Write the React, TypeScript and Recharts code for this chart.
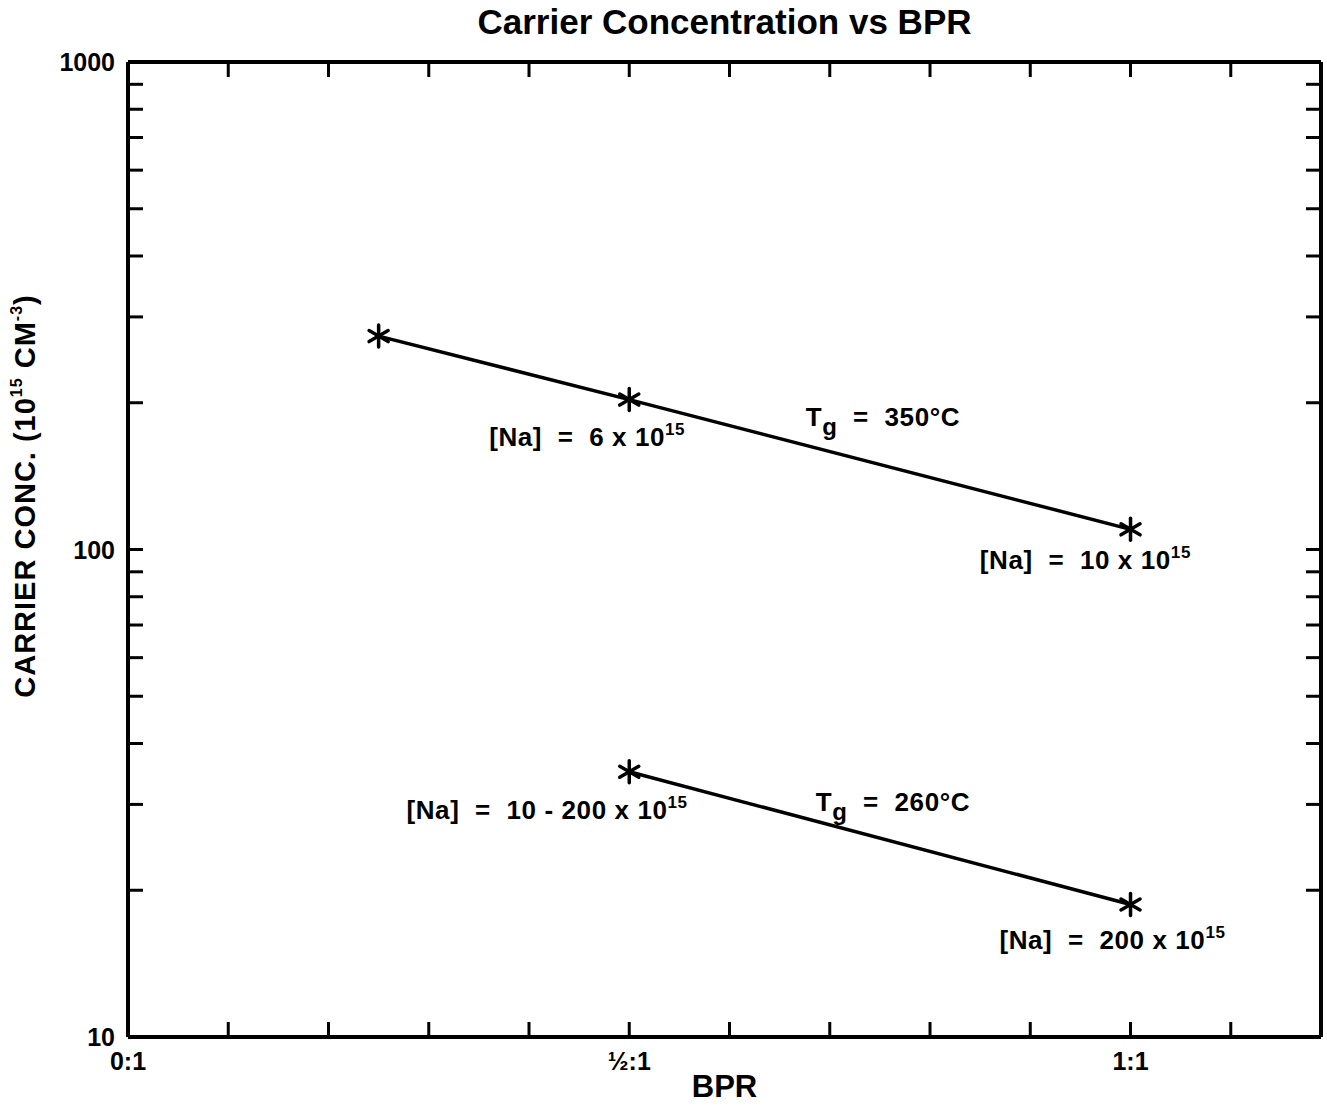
import React from 'react'
import { ScatterChart, Scatter, XAxis, YAxis, ReferenceDot, ReferenceLine, Label } from 'recharts'

// BPR (boron/phosphorus ratio) vs carrier concentration, two growth temps
const BPR_350 = [0.25, 0.5, 1.0]
const CONC_350 = [274, 203, 110]
const BPR_260 = [0.5, 1.0]
const CONC_260 = [35, 18.7]

const X_MAX = 1.19
const X_TICKS = [0, 0.1, 0.2, 0.3, 0.4, 0.5, 0.6, 0.7, 0.8, 0.9, 1.0, 1.1]
const X_LABELS: Record<string, string> = { '0': '0:1', '0.5': '½:1', '1': '1:1' }
const Y_TICKS = [10, 20, 30, 40, 50, 60, 70, 80, 90, 100, 200, 300, 400, 500, 600, 700, 800, 900, 1000]
const Y_LABELS = [10, 100, 1000]

// annotations: position in data units, text split by | into normal/sup/sub parts
const NOTES_X = [0.458, 0.753, 0.955, 0.418, 0.763, 0.982]
const NOTES_Y = [170, 187, 95.3, 29.2, 30.4, 15.8]
const NOTES_TEXT = [
  '[Na]  =  6 x 10|15',
  'T|g|  =  350°C',
  '[Na]  =  10 x 10|15',
  '[Na]  =  10 - 200 x 10|15',
  'T|g|  =  260°C',
  '[Na]  =  200 x 10|15',
]

const s350 = BPR_350.map((x, i) => ({ x, y: CONC_350[i] }))
const s260 = BPR_260.map((x, i) => ({ x, y: CONC_260[i] }))

const FONT = '"Liberation Sans", Arial, Helvetica, sans-serif'
const TICK = 15

const Asterisk = (props: any) => {
  const { cx, cy } = props
  if (cx == null || cy == null) return null
  const r = 11
  const dx = r * Math.cos(Math.PI / 6)
  const dy = r * Math.sin(Math.PI / 6)
  return (
    <g stroke="#000" strokeWidth={3.5} strokeLinecap="round">
      <line x1={cx} y1={cy - r} x2={cx} y2={cy + r} />
      <line x1={cx - dx} y1={cy - dy} x2={cx + dx} y2={cy + dy} />
      <line x1={cx - dx} y1={cy + dy} x2={cx + dx} y2={cy - dy} />
    </g>
  )
}

const Nothing = () => <g />

const BottomTick = (props: any) => {
  const { x, y, payload } = props
  const lbl = X_LABELS[String(payload.value)]
  return (
    <g>
      <line x1={x} y1={y} x2={x} y2={y - TICK} stroke="#000" strokeWidth={3} />
      {lbl && (
        <text x={x} y={y + 24} textAnchor="middle" dominantBaseline="central"
          fontFamily={FONT} fontWeight="bold" fontSize={25} fill="#000">{lbl}</text>
      )}
    </g>
  )
}

const TopTick = (props: any) => {
  const { x, y } = props
  return <line x1={x} y1={y} x2={x} y2={y + TICK} stroke="#000" strokeWidth={3} />
}

const LeftTick = (props: any) => {
  const { x, y, payload } = props
  const show = Y_LABELS.includes(payload.value)
  return (
    <g>
      <line x1={x} y1={y} x2={x + TICK} y2={y} stroke="#000" strokeWidth={3} />
      {show && (
        <text x={x - 13} y={y} textAnchor="end" dominantBaseline="central"
          fontFamily={FONT} fontWeight="bold" fontSize={25} fill="#000">{payload.value}</text>
      )}
    </g>
  )
}

const RightTick = (props: any) => {
  const { x, y } = props
  return <line x1={x} y1={y} x2={x - TICK} y2={y} stroke="#000" strokeWidth={3} />
}

const Note = (text: string) => (props: any) => {
  const { cx, cy } = props
  const parts = text.split('|')
  const isTg = parts.length === 3
  return (
    <text x={cx} y={cy} textAnchor="middle" dominantBaseline="central" fontFamily={FONT}
      fontWeight="bold" fontSize={26} letterSpacing={0.6} fill="#000" style={{ whiteSpace: 'pre' }}>
      {isTg ? (
        <>
          <tspan>{parts[0]}</tspan>
          <tspan dy={9} fontSize={24}>{parts[1]}</tspan>
          <tspan dy={-9}>{parts[2]}</tspan>
        </>
      ) : (
        <>
          <tspan>{parts[0]}</tspan>
          <tspan dy={-8} fontSize={17}>{parts[1]}</tspan>
        </>
      )}
    </text>
  )
}

const XTitle = (props: any) => {
  const { viewBox } = props
  return (
    <text x={viewBox.x + viewBox.width / 2} y={viewBox.y + 49} textAnchor="middle" dominantBaseline="central"
      fontFamily={FONT} fontWeight="bold" fontSize={31} fill="#000">BPR</text>
  )
}

const YTitle = (props: any) => {
  const { viewBox } = props
  const x = viewBox.x + 9
  const y = viewBox.y + 434
  return (
    <text x={x} y={y} transform={`rotate(-90 ${x} ${y})`} textAnchor="middle" dominantBaseline="central"
      fontFamily={FONT} fontWeight="bold" fontSize={29} letterSpacing={1} fill="#000">
      <tspan>CARRIER CONC. (10</tspan>
      <tspan dy={-9} fontSize={16}>15</tspan>
      <tspan dy={9}> CM</tspan>
      <tspan dy={-9} fontSize={16}>-3</tspan>
      <tspan dy={9}>)</tspan>
    </text>
  )
}

export default function App() {
  return (
    <div style={{ position: 'absolute', left: 0, top: 0, width: 1327, height: 1109, background: '#fff' }}>
      <div style={{ position: 'absolute', left: 128, top: 2, width: 1193, textAlign: 'center', fontFamily: FONT,
        fontWeight: 'bold', fontSize: 35, lineHeight: '40px', color: '#000' }}>
        Carrier Concentration vs BPR
      </div>
      <ScatterChart width={1327} height={1109} margin={{ top: 61, right: 5, left: 16, bottom: 12 }}>
        <XAxis type="number" dataKey="x" domain={[0, X_MAX]} ticks={X_TICKS} interval={0}
          allowDataOverflow height={60} tickSize={0} tickMargin={0} tickLine={false}
          axisLine={{ stroke: '#000', strokeWidth: 4 }} tick={<BottomTick />}>
          <Label content={<XTitle />} />
        </XAxis>
        <XAxis xAxisId="top" orientation="top" type="number" dataKey="x" domain={[0, X_MAX]} ticks={X_TICKS}
          interval={0} allowDataOverflow height={1} tickSize={0} tickMargin={0} tickLine={false}
          axisLine={{ stroke: '#000', strokeWidth: 4 }} tick={<TopTick />} />
        <YAxis type="number" dataKey="y" scale="log" domain={[10, 1000]} ticks={Y_TICKS} interval={0}
          allowDataOverflow width={112} tickSize={0} tickMargin={0} tickLine={false}
          axisLine={{ stroke: '#000', strokeWidth: 4 }} tick={<LeftTick />}>
          <Label content={<YTitle />} />
        </YAxis>
        <YAxis yAxisId="right" orientation="right" type="number" dataKey="y" scale="log" domain={[10, 1000]}
          ticks={Y_TICKS} interval={0} allowDataOverflow width={1} tickSize={0} tickMargin={0} tickLine={false}
          axisLine={{ stroke: '#000', strokeWidth: 4 }} tick={<RightTick />} />
        {/* right edge of the frame */}
        <ReferenceLine x={X_MAX} stroke="#000" strokeWidth={4} />
        {/* invisible copy so the mirrored frame axes get drawn */}
        <Scatter data={s350} xAxisId="top" yAxisId="right" shape={<Nothing />} isAnimationActive={false} />
        <Scatter data={s350} line={{ stroke: '#000', strokeWidth: 3.5 }} lineType="joint"
          shape={<Asterisk />} isAnimationActive={false} />
        <Scatter data={s260} line={{ stroke: '#000', strokeWidth: 3.5 }} lineType="joint"
          shape={<Asterisk />} isAnimationActive={false} />
        {NOTES_TEXT.map((t, i) => (
          <ReferenceDot key={i} x={NOTES_X[i]} y={NOTES_Y[i]} r={0} shape={Note(t)} />
        ))}
      </ScatterChart>
    </div>
  )
}
